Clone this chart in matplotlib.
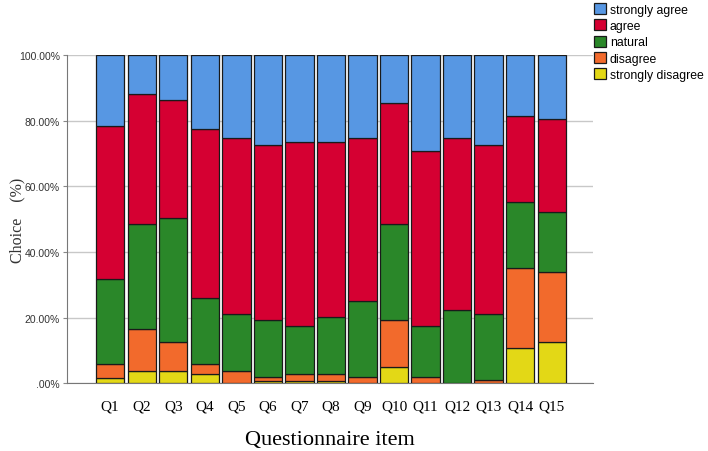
import numpy as np
import matplotlib
matplotlib.use("Agg")
import matplotlib.pyplot as plt

items = ["Q1", "Q2", "Q3", "Q4", "Q5", "Q6", "Q7", "Q8", "Q9", "Q10",
         "Q11", "Q12", "Q13", "Q14", "Q15"]

# percentage of answers per item, bottom to top
strongly_disagree = [1.7, 3.8, 3.8, 2.8, 0.0, 0.8, 0.8, 0.8, 0.0, 4.8, 0.0, 0.0, 0.0, 10.6, 12.6]
disagree = [4.1, 12.7, 8.8, 3.0, 3.8, 1.1, 2.0, 2.0, 1.9, 14.5, 1.9, 0.0, 0.9, 24.4, 21.3]
natural = [26.1, 31.9, 37.6, 20.3, 17.4, 17.4, 14.7, 17.5, 23.2, 29.1, 15.6, 22.3, 20.3, 20.1, 18.4]
agree = [46.6, 39.7, 36.1, 51.3, 53.4, 53.3, 56.1, 53.3, 49.5, 36.9, 53.3, 52.3, 51.4, 26.3, 28.2]
strongly_agree = [21.5, 11.9, 13.7, 22.6, 25.4, 27.4, 26.4, 26.4, 25.4, 14.7, 29.2, 25.4, 27.4, 18.6, 19.5]

series = [
    ("strongly disagree", strongly_disagree, "#E3D816"),
    ("disagree", disagree, "#F26A2C"),
    ("natural", natural, "#2A8729"),
    ("agree", agree, "#D50032"),
    ("strongly agree", strongly_agree, "#5797E3"),
]

fig = plt.figure(figsize=(7.08, 4.52), dpi=100)
ax = fig.add_axes([0.0946, 0.150, 0.743, 0.726])

x = np.arange(len(items))
bottom = np.zeros(len(items))
bars = {}
for name, vals, color in series:
    vals = np.array(vals)
    bars[name] = ax.bar(x, vals, 0.9, bottom=bottom, color=color,
                        edgecolor="#1a1a1a", linewidth=0.9, zorder=3)
    bottom += vals

ax.set_xlim(-1.37, 15.31)
ax.set_ylim(0, 100)
ax.set_yticks([0, 20, 40, 60, 80, 100])
ax.set_yticklabels([".00%", "20.00%", "40.00%", "60.00%", "80.00%", "100.00%"],
                   fontfamily="Liberation Sans", fontsize=7.5, color="#333333")
ax.set_xticks(x)
ax.set_xticklabels(items, fontfamily="Liberation Serif", fontsize=11)
ax.tick_params(axis="y", length=3, color="#888888", pad=2)
ax.tick_params(axis="x", length=0, pad=12)

ax.yaxis.grid(True, color="#c8c8c8", linewidth=1, zorder=0)
for s in ["top", "right"]:
    ax.spines[s].set_visible(False)
ax.spines["left"].set_color("#777777")
ax.spines["bottom"].set_color("#777777")

ax.set_ylabel("Choice\u3000(%)", fontfamily=["Liberation Serif", "Noto Sans CJK SC"],
              fontsize=11.5, color="#333333")
ax.yaxis.set_label_coords(-0.08, 0.5)
ax.set_xlabel("Questionnaire item", fontfamily="Liberation Serif", fontsize=16,
              labelpad=12)

order = ["strongly agree", "agree", "natural", "disagree", "strongly disagree"]
leg = fig.legend([bars[k] for k in order], order, loc="upper left",
                 bbox_to_anchor=(0.827, 1.01), frameon=False,
                 prop={"family": "Liberation Sans", "size": 8.8},
                 handlelength=1.0, handleheight=1.0, handletextpad=0.3,
                 labelspacing=0.3, borderpad=0.2)

fig.savefig("out.png", dpi=100)
